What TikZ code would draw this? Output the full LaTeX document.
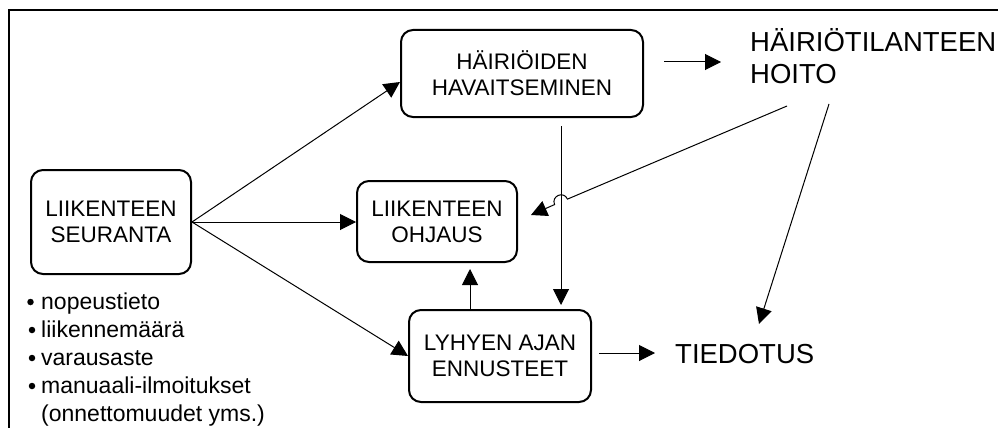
\documentclass[tikz,border=0pt]{standalone}
\usepackage{fontspec}
\setmainfont{Liberation Sans}
\usetikzlibrary{arrows.meta}
\begin{document}
\begin{tikzpicture}[x=1pt,y=-1pt,
  box/.style={draw, line width=2pt, rounded corners=12pt, align=center,
    font=\fontsize{22.5}{26}\selectfont, inner sep=0pt},
  arr/.style={line width=1pt, -{Triangle[length=16pt,width=16pt]}},
  big/.style={font=\fontsize{27.5}{32}\selectfont, inner sep=0pt},
  srcitem/.style={font=\fontsize{23}{28}\selectfont, inner sep=0pt, anchor=base west},
  dot/.style={circle, fill, inner sep=0pt, minimum size=6.5pt}]
\useasboundingbox (0,0) rectangle (998,428);
\fill[white] (0,0) rectangle (998,428);
% outer frame (continues past the page on the right and bottom)
\draw[line width=2pt] (9,460) -- (9,10) -- (1030,10) -- (1030,460) -- cycle;

% process boxes
\node[box, minimum width=242pt, minimum height=87pt] (hav) at (522,73.5) {HÄIRIÖIDEN\\HAVAITSEMINEN};
\node[box, minimum width=160pt, minimum height=104pt] (seur) at (111,222) {LIIKENTEEN\\SEURANTA};
\node[box, minimum width=160pt, minimum height=81pt] (ohj) at (437,221.5) {LIIKENTEEN\\OHJAUS};
\node[box, minimum width=182pt, minimum height=92pt] (enn) at (500,356) {LYHYEN AJAN\\ENNUSTEET};

% free-standing texts
\node[big, anchor=base west] (hoito) at (750,52) {HÄIRIÖTILANTEEN};
\node[big, anchor=base west] (hoito2) at (750,84) {HOITO};
\node[big, anchor=base west] (tied) at (675,363) {TIEDOTUS};

% data sources
\node[dot] (b1) at (30.5,302) {};
\node[dot] (b2) at (32,330) {};
\node[dot] (b3) at (32,358) {};
\node[dot] (b4) at (32,386) {};
\node[srcitem] (i1) at (41,309) {nopeustieto};
\node[srcitem] (i2) at (41,337) {liikennemäärä};
\node[srcitem] (i3) at (41,365) {varausaste};
\node[srcitem] (i4) at (41,393) {manuaali-ilmoitukset};
\node[srcitem] (i5) at (41,421.5) {(onnettomuudet yms.)};

% connector end points near the free texts
\coordinate (h1) at (787,106);
\coordinate (h2) at (829,104);
\coordinate (t1) at (759,324);

% connectors
\draw[arr] (seur.east) -- ([yshift=-8.5pt]hav.west);
\draw[arr] (seur.east) -- (seur.east -| ohj.west);
\draw[arr] (seur.east) -- (enn.west);
\draw[arr, shorten <=20pt, shorten >=29pt] ([yshift=11.5pt]hav.east) -- ([yshift=11.5pt]hav.east -| hoito.west);
\draw[arr, shorten <=8pt, shorten >=4pt] ([xshift=39pt]hav.south) -- ([xshift=39pt]hav.south |- enn.north);
\draw[arr, shorten >=6pt] ([xshift=33pt]ohj.south |- enn.north) -- ([xshift=33pt]ohj.south);
\draw[arr, shorten <=7pt, shorten >=20pt] ([yshift=3pt]enn.east) -- ([yshift=3pt]enn.east -| tied.west);
\draw[arr] (h2) -- (t1);
% line hopping over the vertical connector
\draw[arr] (h1) -- (567.44,199.12)
  .. controls (563.80,190.53) and (550.92,195.99) .. (554.56,204.58)
  -- ([xshift=13pt,yshift=6.5pt]ohj.east);
\end{tikzpicture}
\end{document}
